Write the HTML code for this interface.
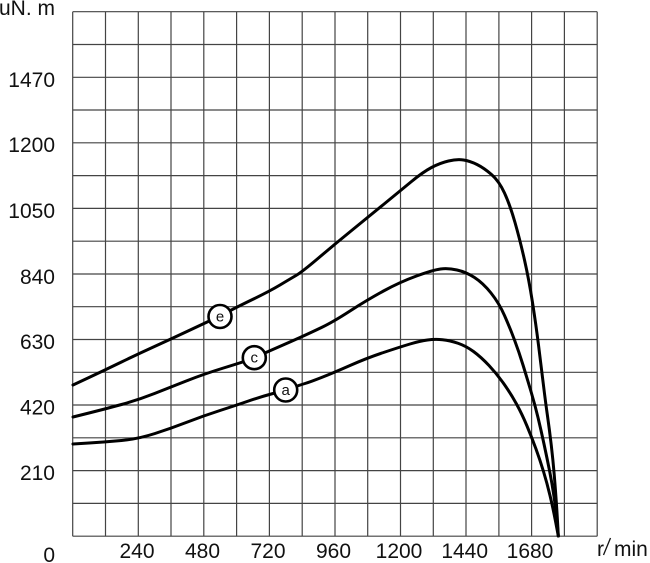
<!DOCTYPE html>
<html><head><meta charset="utf-8"><style>
html,body{margin:0;padding:0;background:#fff;}
svg{display:block;}
text{font-family:"Liberation Sans",Arial,sans-serif;font-size:21px;fill:#111;}
</style></head><body>
<svg width="650" height="563" viewBox="0 0 650 563" xmlns="http://www.w3.org/2000/svg">
<rect width="650" height="563" fill="#fff"/>
<g stroke="#444" stroke-width="1.2" fill="none">
<path d="M72.7 11.7V536.2M105.5 11.7V536.2M138.3 11.7V536.2M171 11.7V536.2M203.8 11.7V536.2M236.6 11.7V536.2M269.4 11.7V536.2M302.2 11.7V536.2M335 11.7V536.2M367.7 11.7V536.2M400.5 11.7V536.2M433.3 11.7V536.2M466 11.7V536.2M498.9 11.7V536.2M531.6 11.7V536.2M564.4 11.7V536.2M597.2 11.7V536.2"/>
<path d="M72.7 11.7H597.2M72.7 44.5H597.2M72.7 77.3H597.2M72.7 110H597.2M72.7 142.8H597.2M72.7 175.6H597.2M72.7 208.4H597.2M72.7 241.2H597.2M72.7 274H597.2M72.7 306.7H597.2M72.7 339.5H597.2M72.7 372.3H597.2M72.7 405H597.2M72.7 437.8H597.2M72.7 470.6H597.2M72.7 503.4H597.2M72.7 536.2H597.2"/>
</g>
<g stroke="#000" stroke-width="3" fill="none" stroke-linejoin="round" stroke-linecap="round">
<path d="M73,385 L89,377.5 Q105,370 121.5,362 Q138,354 154.5,346.5 Q171,339 188,331 Q205,323 212.5,319.5 Q220,316 228.5,311.5 Q237,307 253.5,299 Q270,291 280,285 Q290,279 296,275.5 Q302,272 318.5,258 Q335,244 351,231 Q367,218 383.5,204.5 Q400,191 411.5,181.5 Q423,172 431.5,167.5 Q440,163 448.5,161 Q457,159 463.5,160 Q470,161 477,164.5 Q484,168 491.5,174.5 Q499,181 504.5,193 Q510,205 515,222.5 Q520,240 524.5,260 Q529,280 532.5,302.5 Q536,325 538.5,345 Q541,365 543.25,383.5 Q545.5,402 547.5,416 Q549.5,430 551.25,445 Q553,460 554.25,475 Q555.5,490 556.4,503.5 Q557.3,517 557.8,526.5 L558.3,536"/>
<path d="M73,417 L89,413 Q105,409 121.5,404.5 Q138,400 154.5,393.5 Q171,387 187.5,380.5 Q204,374 223.5,368 Q243,362 248.5,360 Q254,358 260.5,355 Q267,352 278.5,347 Q290,342 300,337.5 Q310,333 321.5,327.5 Q333,322 350,311 Q367,300 383.5,291 Q400,282 416.5,276 Q433,270 440.5,269 Q448,268 457,270 Q466,272 474.5,277.5 Q483,283 491,293 Q499,303 504.5,315.5 Q510,328 514.5,340 Q519,352 523,365 Q527,378 531,391.5 Q535,405 538,417.5 Q541,430 544,444 Q547,458 549.5,470.5 Q552,483 554,496.5 Q556,510 557.15,523 L558.3,536"/>
<path d="M73,444 L89,443 Q105,442 121.5,440.5 Q138,439 155,433.5 Q172,428 187.5,422 Q203,416 220,410.5 Q237,405 248.5,401 Q260,397 273,393.5 Q286,390 293,387.5 Q300,385 305,383.5 Q310,382 321.5,377.5 Q333,373 350,365.5 Q367,358 383.5,352.5 Q400,347 410,344 Q420,341 427.5,340 Q435,339 442.5,339.75 Q450,340.5 458,343.25 Q466,346 473.5,351.5 Q481,357 489,365.5 Q497,374 504,384 Q511,394 516.5,404 Q522,414 527,426 Q532,438 536,449 Q540,460 543.5,471.5 Q547,483 550,495.5 Q553,508 555.65,522 L558.3,536"/>
</g>
<g stroke="#000" stroke-width="2.6" fill="#fff">
<circle cx="220" cy="316.5" r="11.5"/>
<circle cx="254.3" cy="357.7" r="11.5"/>
<circle cx="285.7" cy="390" r="11.5"/>
</g>
<g text-anchor="middle">
<text x="220" y="321.5" style="font-size:15px">e</text>
<text x="254.3" y="362.7" style="font-size:15px">c</text>
<text x="285.7" y="395" style="font-size:15px">a</text>
</g>
<g text-anchor="end">
<text x="55" y="15">uN. m</text>
<text x="55" y="87">1470</text>
<text x="55" y="152">1200</text>
<text x="55" y="218">1050</text>
<text x="55" y="284">840</text>
<text x="55" y="349">630</text>
<text x="55" y="414.5">420</text>
<text x="55" y="480">210</text>
<text x="55" y="562">0</text>
</g>
<g text-anchor="middle">
<text x="137" y="558">240</text>
<text x="202.5" y="558">480</text>
<text x="268" y="558">720</text>
<text x="333.5" y="558">960</text>
<text x="399" y="558">1200</text>
<text x="464.7" y="558">1440</text>
<text x="530" y="558">1680</text>
</g>
<text x="597" y="556">r</text>
<line x1="603.5" y1="555" x2="610.5" y2="538" stroke="#111" stroke-width="1.3"/>
<text x="614" y="556">min</text>
</svg>
</body></html>
